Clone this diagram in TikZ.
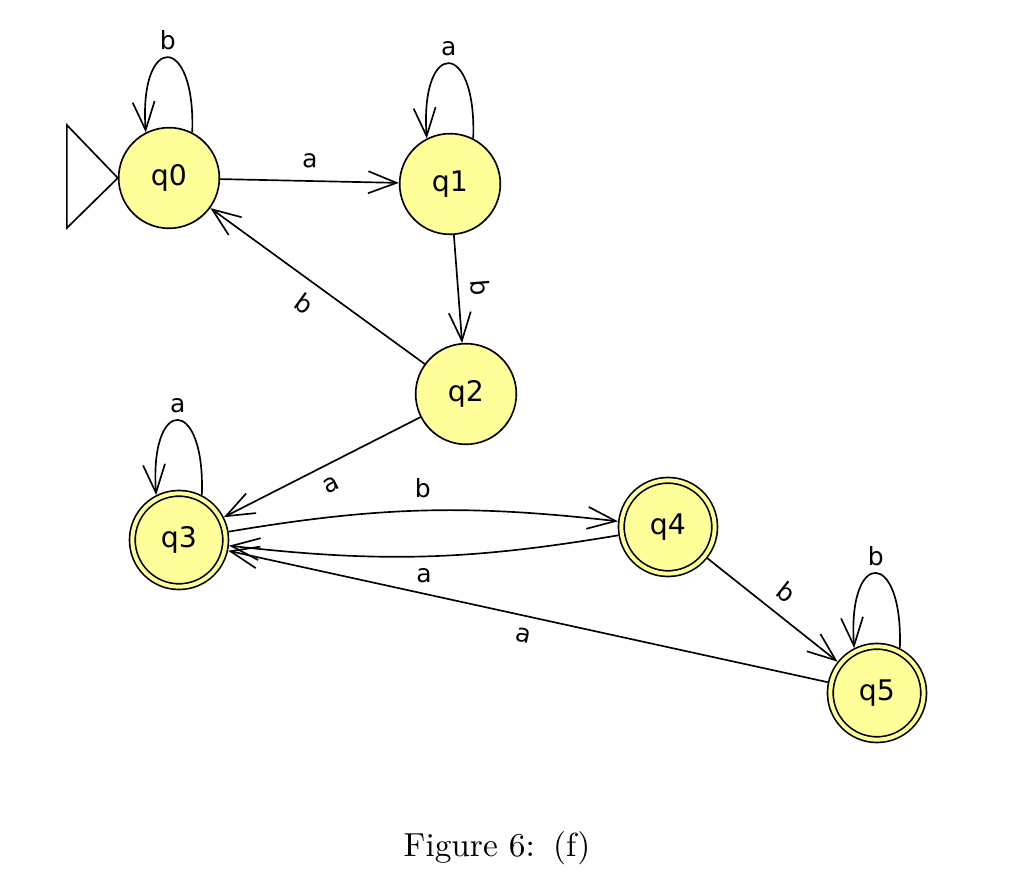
\documentclass[tikz,border=0pt]{standalone}
\usepackage{fontspec}
\setsansfont{DejaVu Sans}
\usepackage{xcolor}
\usepackage{tikz}
\usetikzlibrary{arrows.meta}
\definecolor{statefill}{HTML}{FFFF99}

\begin{document}
\begin{tikzpicture}[
  x=0.3pt, y=-0.3pt,
  state/.style={circle, draw, line width=0.5pt, fill=statefill, minimum size=30.2pt,
                inner sep=0pt, font=\sffamily\fontsize{8.5}{10}\selectfont},
  accept/.style={state, double=statefill, double distance=1.2pt, minimum size=28pt, outer sep=1.1pt},
  edge/.style={-{Straight Barb[length=8.5pt, width=6.6pt]}, line width=0.5pt},
  loopedge/.style={edge, out=88, in=94, distance=30pt},
  lbl/.style={font=\sffamily\fontsize{7.5}{9}\selectfont, inner sep=3.5pt},
]
\useasboundingbox (0,0) rectangle (1024,884);

\node[state] (q0) at (169,178) {q0};
\node[state] (q1) at (450,184) {q1};
\node[state] (q2) at (466,394) {q2};
\node[accept] (q3) at (179,540) {q3};
\node[accept] (q4) at (668,527) {q4};
\node[accept] (q5) at (877,693) {q5};

\draw[line width=0.5pt, fill=white] (q0.west) -- ++(-51,-53) -- ++(0,103) -- cycle;

\draw[loopedge] (q0.63) to node[lbl, above, inner sep=2pt] {b} (q0.117);
\draw[loopedge] (q1.63) to node[lbl, above, inner sep=2pt] {a} (q1.117);
\draw[loopedge] (q3.63) to node[lbl, above, inner sep=2pt] {a} (q3.117);
\draw[loopedge] (q5.63) to node[lbl, above, inner sep=2pt] {b} (q5.117);

\draw[edge] (q0) -- node[lbl, above, sloped] {a} (q1);
\draw[edge] (q1) -- node[lbl, above, sloped] {b} (q2);
\draw[edge] (q2) -- node[lbl, below, sloped] {b} (q0);
\draw[edge] (q2) -- node[lbl, below, sloped] {a} (q3);
\draw[edge] (q3) to[bend left=8] node[lbl, above] {b} (q4);
\draw[edge] (q4) to[bend left=8] node[lbl, below] {a} (q3);
\draw[edge] (q4) -- node[lbl, above, sloped] {b} (q5);
\draw[edge] (q5) -- node[lbl, below, sloped] {a} (q3);

\node (cap) at (497,848) {Figure 6:\hspace{5.5pt}(f)};
\end{tikzpicture}
\end{document}
